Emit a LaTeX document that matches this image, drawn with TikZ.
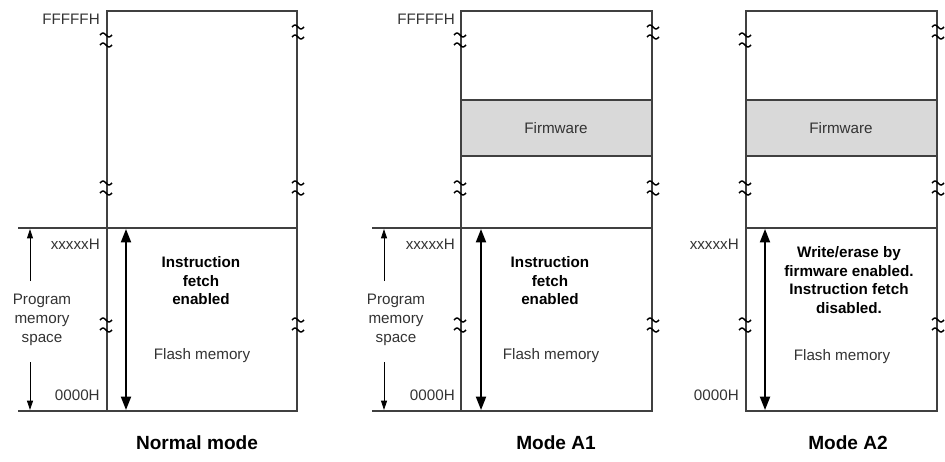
\documentclass[tikz,border=0pt]{standalone}
\usepackage{fontspec}
\setmainfont{Liberation Sans}
\usetikzlibrary{arrows.meta}

% break mark on a vertical edge
\newcommand{\brkmark}[2]{%
  \draw[brk] (#1-6,#2-5) sin (#1-3,#2-7) cos (#1,#2-5) sin (#1+3,#2-3) cos (#1+6,#2-5);
  \draw[brk] (#1-6,#2+5) sin (#1-3,#2+3) cos (#1,#2+5) sin (#1+3,#2+7) cos (#1+6,#2+5);
}

\begin{document}
\begin{tikzpicture}[x=0.75pt, y=-0.75pt,
  box/.style={draw=black!75, line width=0.9pt},
  fw/.style={draw=black!75, line width=0.9pt, fill=black!15},
  brk/.style={draw=black, line width=1.1pt},
  lbl/.style={font=\fontsize{11.4}{14}\selectfont, text=black!80, inner sep=0pt},
  pms/.style={font=\fontsize{11.4}{14.2}\selectfont, text=black!80, align=center, inner sep=0pt},
  note/.style={font=\bfseries\fontsize{11.4}{13.9}\selectfont, align=center, inner sep=0pt},
  ttl/.style={font=\bfseries\fontsize{14.3}{16}\selectfont, inner sep=0pt},
  bigarrow/.style={line width=1.4pt, {Triangle[length=10pt, width=7.5pt]}-{Triangle[length=10pt, width=7.5pt]}},
  smallarrow/.style={line width=0.6pt, -{Triangle[length=7pt, width=4.5pt]}}]
  \useasboundingbox (0,0) rectangle (945,461);

  % Normal mode
  \draw[box] (107,11) rectangle (297,411);
  \draw[box] (18,228) -- (297,228);
  \draw[box] (18,411) -- (107,411);
  \brkmark{106}{40} \brkmark{106}{188} \brkmark{106}{325}
  \brkmark{298}{32} \brkmark{298}{188} \brkmark{298}{325}
  \node (n-ff) [lbl, anchor=east] at (100,19) {FFFFFH};
  \node (n-xx) [lbl, anchor=east] at (100,244) {xxxxxH};
  \node (n-00) [lbl, anchor=east] at (100,395) {0000H};
  \node (n-pms) [pms] at (42,320) {Program\\memory\\space};
  \coordinate (n-up) at (30,229);
  \coordinate (n-dn) at (30,410);
  \draw[smallarrow] (30,281) -- (n-up);
  \draw[smallarrow] (30,362) -- (n-dn);
  \coordinate (n-top) at (126,229);
  \coordinate (n-bot) at (126,410);
  \draw[bigarrow] (n-top) -- (n-bot);
  \node (n-note) [note] at (201,281) {Instruction\\fetch\\enabled};
  \node (n-flash) [lbl] at (202,356) {Flash memory};
  \node (n-title) [ttl] at (197,443) {Normal mode};

  % Mode A1
  \draw[box] (461,11) rectangle (652,411);
  \draw[fw] (461,100) rectangle (652,156);
  \draw[box] (372,228) -- (652,228);
  \draw[box] (372,411) -- (461,411);
  \brkmark{460}{40} \brkmark{460}{188} \brkmark{460}{325}
  \brkmark{653}{32} \brkmark{653}{188} \brkmark{653}{325}
  \node (a1-fw) [lbl] at (556,128) {Firmware};
  \node (a1-ff) [lbl, anchor=east] at (455,19) {FFFFFH};
  \node (a1-xx) [lbl, anchor=east] at (455,244) {xxxxxH};
  \node (a1-00) [lbl, anchor=east] at (455,395) {0000H};
  \node (a1-pms) [pms] at (396,320) {Program\\memory\\space};
  \coordinate (a1-up) at (384,229);
  \coordinate (a1-dn) at (384,410);
  \draw[smallarrow] (384,281) -- (a1-up);
  \draw[smallarrow] (384,362) -- (a1-dn);
  \coordinate (a1-top) at (481,229);
  \coordinate (a1-bot) at (481,410);
  \draw[bigarrow] (a1-top) -- (a1-bot);
  \node (a1-note) [note] at (550,281) {Instruction\\fetch\\enabled};
  \node (a1-flash) [lbl] at (551,356) {Flash memory};
  \node (a1-title) [ttl] at (556,443) {Mode A1};

  % Mode A2
  \draw[box] (746,11) rectangle (937,411);
  \draw[fw] (746,100) rectangle (937,156);
  \draw[box] (746,228) -- (937,228);
  \brkmark{745}{40} \brkmark{745}{188} \brkmark{745}{325}
  \brkmark{938}{32} \brkmark{938}{188} \brkmark{938}{325}
  \node (a2-fw) [lbl] at (841,128) {Firmware};
  \node (a2-xx) [lbl, anchor=east] at (739,244) {xxxxxH};
  \node (a2-00) [lbl, anchor=east] at (739,395) {0000H};
  \coordinate (a2-top) at (765,229);
  \coordinate (a2-bot) at (765,410);
  \draw[bigarrow] (a2-top) -- (a2-bot);
  \node (a2-note) [note] at (849,280) {Write/erase by\\firmware enabled.\\Instruction fetch\\disabled.};
  \node (a2-flash) [lbl] at (842,357) {Flash memory};
  \node (a2-title) [ttl] at (848,443) {Mode A2};
\end{tikzpicture}
\end{document}
